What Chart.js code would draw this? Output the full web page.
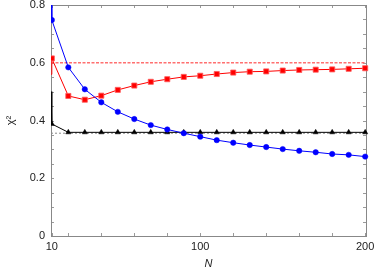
<!DOCTYPE html>
<html><head><meta charset="utf-8">
<script src="https://cdn.jsdelivr.net/npm/chart.js@4.4.1/dist/chart.umd.min.js"></script>
<style>html,body{margin:0;padding:0;background:#fff}</style>
</head><body>
<canvas id="c" width="374" height="275"></canvas>
<script>
// Data
const N = [10,20,30,40,50,60,70,80,90,100,110,120,130,140,150,160,170,180,190,200];
const blueVals  = [0.748,0.584,0.508,0.463,0.430,0.405,0.384,0.369,0.356,0.344,0.332,0.323,0.315,0.308,0.301,0.295,0.290,0.284,0.281,0.275];
const redVals   = [0.615,0.485,0.472,0.486,0.506,0.521,0.534,0.543,0.551,0.555,0.561,0.566,0.569,0.570,0.573,0.575,0.576,0.577,0.579,0.581];
const blackVals = [0.388,0.359,0.359,0.359,0.359,0.359,0.359,0.359,0.359,0.359,0.359,0.359,0.359,0.359,0.359,0.359,0.359,0.359,0.359,0.359];
// clipped segments entering from the left edge
const leadN = 9.5;
const leadBlue = 0.95, leadRed = 0.56, leadBlack = 0.5;
// reference levels (dashed)
const redLevel = 0.6;
const grayLevel = 0.356;
const levelN = [9.5, 200.5];
// axes
const xTickVals = [10,20,40,60,80,100,120,140,160,180,200];
const xTickLabels = [10,100,200];
const yLabelStep = 0.2;

const pts = (vals, lead) => [{x:leadN, y:lead}].concat(N.map((n,i)=>({x:n, y:vals[i]})));
const lvl = v => levelN.map(n=>({x:n, y:v}));
const rad = r => (c => c.dataIndex === 0 ? 0 : r);
const CLIP = {left:0, right:4, top:0, bottom:0};

const frame = {
  id:'frame',
  beforeDatasetsDraw(chart){
    const {ctx, chartArea:a, scales:{x,y}} = chart;
    ctx.save();
    ctx.strokeStyle = '#9a9a9a'; ctx.lineWidth = 1;
    ctx.beginPath();
    xTickVals.forEach(v=>{
      const px = Math.round(x.getPixelForValue(v)) + 0.5;
      ctx.moveTo(px, a.bottom); ctx.lineTo(px, a.bottom-3);
      ctx.moveTo(px, a.top); ctx.lineTo(px, a.top+3);
    });
    y.ticks.forEach(t=>{
      const py = Math.round(y.getPixelForValue(t.value)) + 0.5;
      ctx.moveTo(a.left, py); ctx.lineTo(a.left+3, py);
      ctx.moveTo(a.right, py); ctx.lineTo(a.right-3, py);
    });
    ctx.stroke();
    ctx.strokeStyle = '#888';
    ctx.strokeRect(Math.round(a.left)+0.5, Math.round(a.top)+0.5, Math.round(a.right-a.left), Math.round(a.bottom-a.top));
    ctx.restore();
  }
};

const FONT = {family:'"Liberation Sans", Arial, sans-serif', size:11};

new Chart(document.getElementById('c'), {
  type:'line',
  data:{datasets:[
    {data:pts(blueVals, leadBlue), borderColor:'#0000ff', backgroundColor:'#0000ff', borderWidth:1,
     pointStyle:'circle', pointRadius:rad(2.7), pointBorderWidth:0.5, order:1, clip:CLIP},
    {data:pts(redVals, leadRed), borderColor:'#ff0000', backgroundColor:'#ff0000', borderWidth:1,
     pointStyle:'rect', pointRadius:rad(3.6), pointBorderColor:'#ff5a5a', pointBorderWidth:0.8, order:2, clip:CLIP},
    {data:pts(blackVals, leadBlack), borderColor:'#000', backgroundColor:'#000', borderWidth:1,
     pointStyle:'triangle', pointRadius:rad(3), pointBorderWidth:0.5, order:3, clip:CLIP},
    {data:lvl(redLevel), borderColor:'#ff7070', borderWidth:1.5, borderDash:[3,1.5], pointRadius:0, order:5},
    {data:lvl(grayLevel), borderColor:'#8a8a8a', borderWidth:1, borderDash:[2,2], pointRadius:0, order:4}
  ]},
  options:{
    responsive:false, animation:false, devicePixelRatio:1,
    layout:{padding:{top:5, right:8, left:0, bottom:0}},
    plugins:{legend:{display:false}, tooltip:{enabled:false}},
    elements:{line:{tension:0}},
    scales:{
      x:{type:'linear', min:9.5, max:200.5,
        grid:{display:false, drawTicks:false}, border:{display:false},
        afterBuildTicks:s=>{ s.ticks = xTickVals.map(v=>({value:v})); },
        afterFit:s=>{ s.height = 39; s.paddingLeft = 0; s.paddingRight = 0; },
        ticks:{autoSkip:false, maxRotation:0, padding:4, color:'#222', font:FONT,
          callback:v=> xTickLabels.includes(v) ? String(v) : ''},
        title:{display:true, text:'N', color:'#222', padding:{top:0,bottom:4},
          font:{family:FONT.family, size:11, style:'italic'}}
      },
      y:{type:'linear', min:0, max:0.8,
        grid:{display:false, drawTicks:false}, border:{display:false},
        afterFit:s=>{ s.width = 51; s.paddingTop = 0; s.paddingBottom = 0; },
        ticks:{stepSize:0.05, autoSkip:false, padding:6, color:'#222', font:FONT,
          callback:v=>{ const k = v/yLabelStep; return Math.abs(k-Math.round(k))<1e-6 ? String(+v.toFixed(1)) : ''; }},
        title:{display:true, text:'χ²', color:'#222', padding:{top:4,bottom:0}, font:{family:FONT.family, size:11}}
      }
    }
  },
  plugins:[frame]
});
</script>
</body></html>
